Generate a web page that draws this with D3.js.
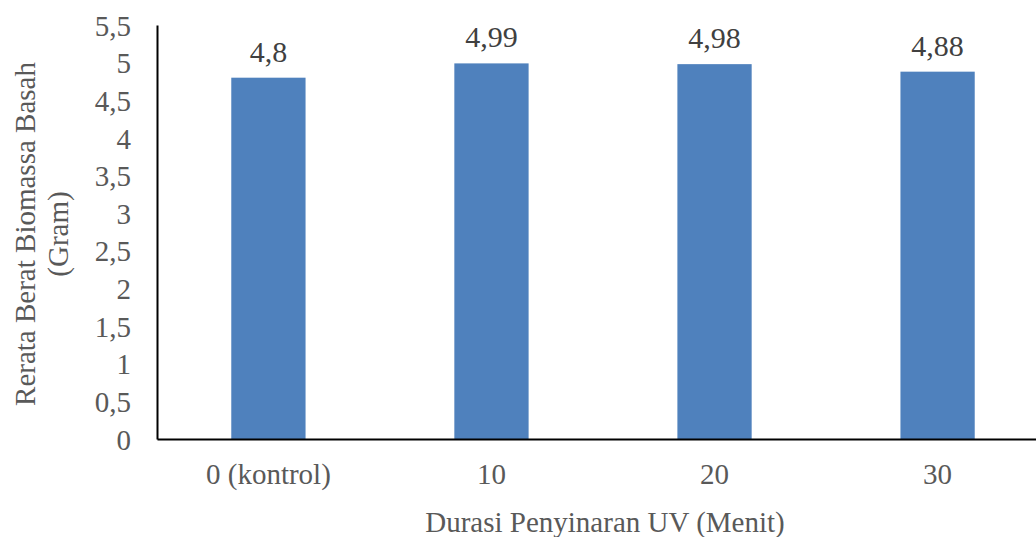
<!DOCTYPE html>
<html>
<head>
<meta charset="utf-8">
<script src="https://cdn.jsdelivr.net/npm/d3@7"></script>
<style>
  body { margin: 0; background: white; }
  svg { display: block; font-family: "Liberation Serif", "Times New Roman", serif; }
</style>
</head>
<body>
<svg id="chart" width="1036" height="537"></svg>
<script>
// data
var categories = ["0 (kontrol)", "10", "20", "30"];
var values = [4.8, 4.99, 4.98, 4.88];
var yTicks = [0, 0.5, 1, 1.5, 2, 2.5, 3, 3.5, 4, 4.5, 5, 5.5];

var svg = d3.select("#chart");
const margins = {top: 25, left: 157, bottom: 98};
var plotRight = 157 + 4 * 223;
var plotBottom = 537 - margins.bottom;

var fmt = v => String(v).replace(".", ",");

var x = d3.scaleBand()
    .domain(categories)
    .range([margins.left, plotRight])
    .paddingInner(0.667)
    .paddingOuter(0.333);

var y = d3.scaleLinear()
    .domain([0, 5.5])
    .range([plotBottom, margins.top]);

// bars
svg.append("g").selectAll("rect")
    .data(values).enter()
    .append("rect")
    .attr("x", (d, i) => x(categories[i]))
    .attr("y", d => y(d))
    .attr("width", x.bandwidth())
    .attr("height", d => y(0) - y(d))
    .attr("fill", "#4f81bd");

// data labels
svg.append("g").selectAll("text")
    .data(values).enter()
    .append("text")
    .attr("x", (d, i) => x(categories[i]) + x.bandwidth() / 2)
    .attr("y", d => y(d) - 16)
    .attr("text-anchor", "middle")
    .attr("font-size", 30)
    .attr("fill", "#404040")
    .text(d => fmt(d));

// y axis
var yAxis = d3.axisLeft(y).tickValues(yTicks).tickSize(0).tickPadding(26).tickFormat(fmt);
var gy = svg.append("g").attr("transform", "translate(" + margins.left + ",0)").call(yAxis);
gy.select(".domain").attr("stroke", "#000").attr("stroke-width", 2);
gy.selectAll("text").attr("font-size", 29).attr("fill", "#595959")
    .attr("font-family", "Liberation Serif").attr("dy", "0.35em");

// x axis
var xAxis = d3.axisBottom(x).tickSize(0).tickPadding(24);
var gx = svg.append("g").attr("transform", "translate(0," + plotBottom + ")").call(xAxis);
gx.select(".domain").attr("stroke", "#000").attr("stroke-width", 2);
gx.selectAll("text").attr("font-size", 29).attr("fill", "#595959")
    .attr("font-family", "Liberation Serif").attr("dy", "0.71em");

// axis titles
svg.append("text")
    .attr("x", 605)
    .attr("y", 532)
    .attr("text-anchor", "middle")
    .attr("font-size", 29)
    .attr("fill", "#595959")
    .text("Durasi Penyinaran UV (Menit)");

var yTitle = svg.append("text")
    .attr("transform", "translate(0," + 234 + ") rotate(-90)")
    .attr("text-anchor", "middle")
    .attr("font-size", 29)
    .attr("fill", "#595959");
yTitle.append("tspan").attr("x", 0).attr("y", 35).text("Rerata Berat Biomassa Basah");
yTitle.append("tspan").attr("x", 0).attr("y", 68).text("(Gram)");
</script>
</body>
</html>
